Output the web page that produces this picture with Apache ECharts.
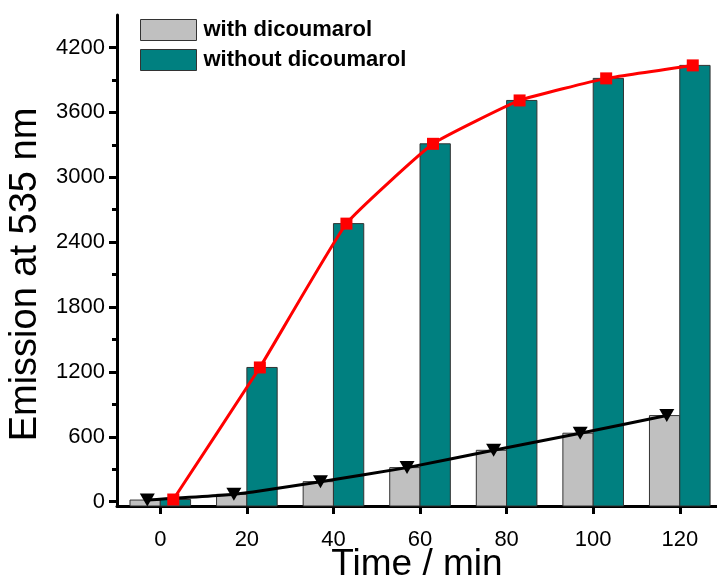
<!DOCTYPE html>
<html>
<head>
<meta charset="utf-8">
<title>Emission at 535 nm vs time</title>
<script src="https://cdn.jsdelivr.net/npm/echarts@6/dist/echarts.min.js"></script>
<style>
  html, body { margin: 0; padding: 0; background: #fff; }
  #chart { width: 717px; height: 583px; }
</style>
</head>
<body>
<div id="chart"></div>
<script>
// Sampling times (min)
const time = [0, 20, 40, 60, 80, 100, 120];
// Emission at 535 nm with dicoumarol added
const withDicoumarol = [15, 68, 185, 315, 475, 633, 796];
// Emission at 535 nm without dicoumarol
const withoutDicoumarol = [20, 1241, 2571, 3309, 3710, 3914, 4034];

// Axis ticks
const xTicks = [0, 20, 40, 60, 80, 100, 120];
const yTicks = [0, 600, 1200, 1800, 2400, 3000, 3600, 4200];
const yMinorTicks = [300, 900, 1500, 2100, 2700, 3300, 3900];

const X_MIN = -10, X_MAX = 128.6;
const Y_MIN = -40, Y_MAX = 4500;
const BAR_SPAN = 7;       // width of one bar, in minutes
const MARKER_SHIFT = 3;   // markers sit over the middle of their bar

const FONT = "'Liberation Sans', Arial, sans-serif";
const GRAY = '#c0c0c0';
const TEAL = '#008080';

// Bars start at the bottom of the plot; side -1 = left of the time, +1 = right
function barRenderer(side, fill) {
  return function (params, api) {
    const t = api.value(0);
    const v = api.value(1);
    const w = api.size([BAR_SPAN, 0])[0];
    const top = api.coord([t, v]);
    const base = api.coord([t, Y_MIN]);
    return {
      type: 'rect',
      shape: {
        x: side < 0 ? top[0] - w : top[0],
        y: top[1],
        width: w,
        height: base[1] - top[1]
      },
      style: { fill: fill, stroke: '#333', lineWidth: 1 }
    };
  };
}

const plainNumber = v => String(v);

const chart = echarts.init(document.getElementById('chart'));
chart.setOption({
  animation: false,
  backgroundColor: '#fff',
  grid: { left: 117, right: 0, top: 15, bottom: 77, containLabel: false, outerBoundsMode: 'none' },
  legend: {
    orient: 'vertical',
    left: 140,
    top: 19,
    padding: 0,
    itemWidth: 56,
    itemHeight: 21,
    itemGap: 8,
    textStyle: { fontFamily: FONT, fontSize: 22, fontWeight: 'bold', color: '#000', padding: [0, 0, 0, 2] },
    data: [
      { name: 'with dicoumarol', icon: 'rect', itemStyle: { color: GRAY, borderColor: '#333', borderWidth: 1 } },
      { name: 'without dicoumarol', icon: 'rect', itemStyle: { color: TEAL, borderColor: '#333', borderWidth: 1 } }
    ]
  },
  xAxis: {
    type: 'value',
    min: X_MIN,
    max: X_MAX,
    name: 'Time / min',
    nameLocation: 'middle',
    nameGap: 40,
    nameMoveOverlap: false,
    nameTextStyle: { fontFamily: FONT, fontSize: 37, color: '#000' },
    splitLine: { show: false },
    axisLine: { show: true, onZero: false, lineStyle: { color: '#000', width: 3 } },
    axisTick: { show: true, inside: false, length: 8, lineStyle: { color: '#000', width: 3 }, customValues: xTicks },
    axisLabel: { fontFamily: FONT, fontSize: 22, color: '#000', margin: 23, formatter: plainNumber, customValues: xTicks }
  },
  yAxis: [
    {
      type: 'value',
      min: Y_MIN,
      max: Y_MAX,
      name: 'Emission at 535 nm',
      nameLocation: 'middle',
      nameGap: 72,
      nameMoveOverlap: false,
      nameTextStyle: { fontFamily: FONT, fontSize: 38, color: '#000', padding: [0, 28, 0, 0] },
      splitLine: { show: false },
      axisLine: { show: true, onZero: false, lineStyle: { color: '#000', width: 3 } },
      axisTick: { show: true, inside: false, length: 8, lineStyle: { color: '#000', width: 3 }, customValues: yTicks },
      axisLabel: { fontFamily: FONT, fontSize: 22, color: '#000', margin: 12, formatter: plainNumber, customValues: yTicks }
    },
    {
      // minor ticks between the labelled ones
      type: 'value',
      min: Y_MIN,
      max: Y_MAX,
      position: 'left',
      splitLine: { show: false },
      axisLine: { show: false, onZero: false },
      axisTick: { show: true, inside: false, length: 5, lineStyle: { color: '#000', width: 3 }, customValues: yMinorTicks },
      axisLabel: { show: false }
    }
  ],
  series: [
    {
      name: 'with dicoumarol',
      type: 'custom',
      renderItem: barRenderer(-1, GRAY),
      itemStyle: { color: GRAY },
      encode: { x: 0, y: 1 },
      data: time.map((t, i) => [t, withDicoumarol[i]]),
      z: 1
    },
    {
      name: 'without dicoumarol',
      type: 'custom',
      renderItem: barRenderer(1, TEAL),
      itemStyle: { color: TEAL },
      encode: { x: 0, y: 1 },
      data: time.map((t, i) => [t, withoutDicoumarol[i]]),
      z: 1
    },
    {
      name: 'with dicoumarol (curve)',
      type: 'line',
      smooth: 0.1,
      symbol: 'triangle',
      symbolRotate: 180,
      symbolSize: [15, 13],
      lineStyle: { color: '#000', width: 3 },
      itemStyle: { color: '#000' },
      data: time.map((t, i) => [t - MARKER_SHIFT, withDicoumarol[i]]),
      z: 3
    },
    {
      name: 'without dicoumarol (curve)',
      type: 'line',
      smooth: 0.12,
      symbol: 'rect',
      symbolSize: 12,
      lineStyle: { color: '#ff0000', width: 3 },
      itemStyle: { color: '#ff0000' },
      data: time.map((t, i) => [t + MARKER_SHIFT, withoutDicoumarol[i]]),
      z: 4
    }
  ]
});
</script>
</body>
</html>
